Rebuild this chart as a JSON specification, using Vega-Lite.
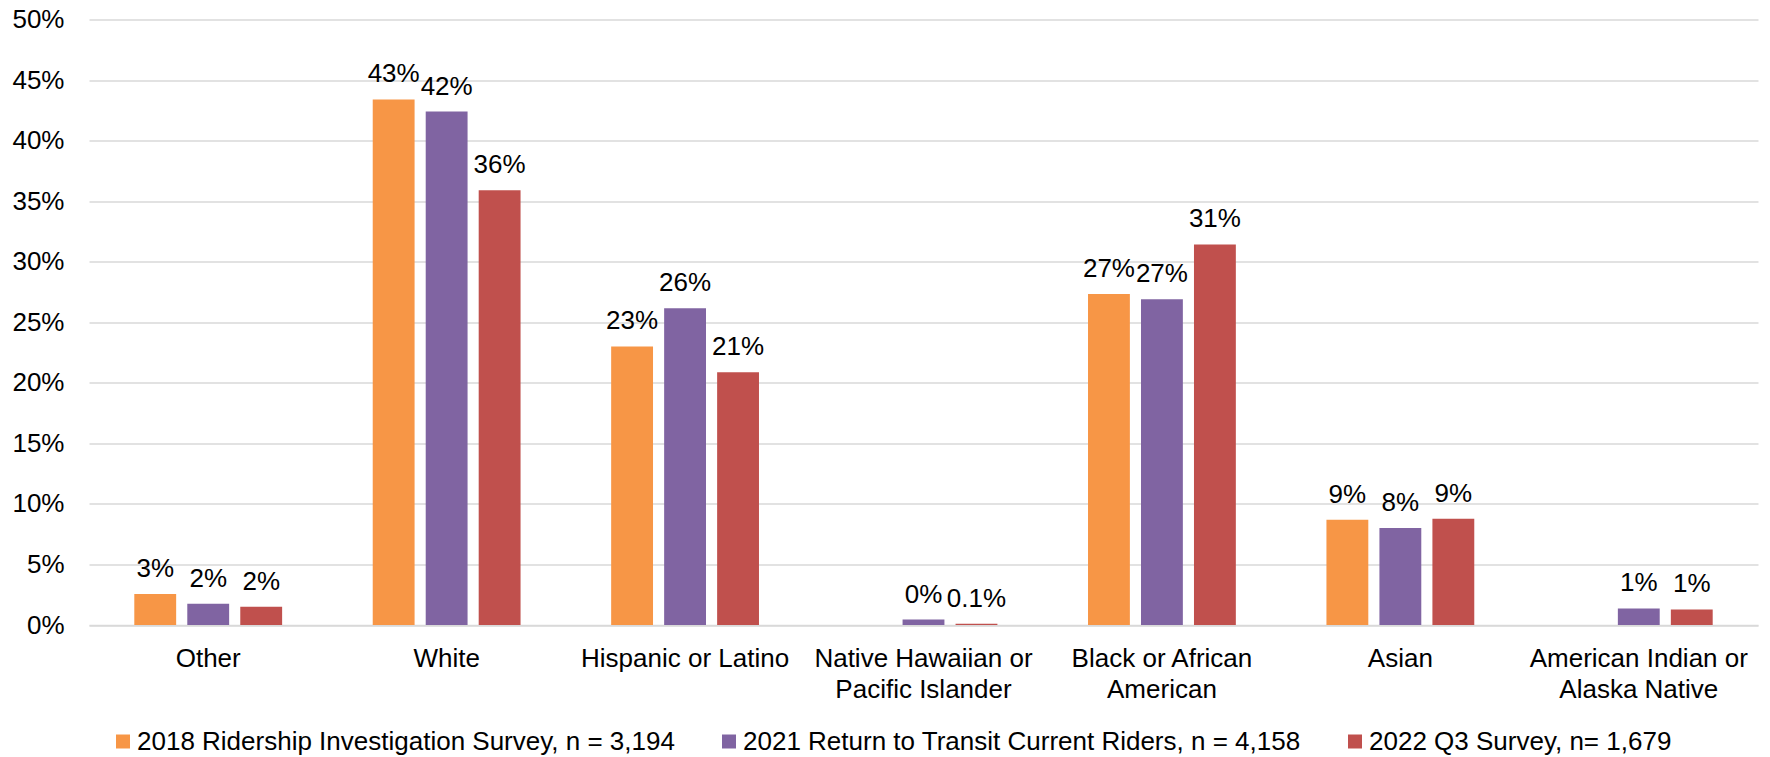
{
  "$schema": "https://vega.github.io/schema/vega-lite/v6.json",
  "width": 1669,
  "height": 605.5,
  "autosize": {"type": "none"},
  "padding": {"left": 89, "top": 19.5, "right": 12, "bottom": 132},
  "background": "white",
  "config": {
    "font": "Liberation Sans",
    "view": {"stroke": null},
    "axis": {"labelFont": "Liberation Sans", "labelFontSize": 26, "labelColor": "#000000"},
    "legend": {"labelFont": "Liberation Sans", "labelFontSize": 26, "labelColor": "#000000"}
  },
  "data": {
    "values": [
      {"group": "Other", "survey": "2018 Ridership Investigation Survey, n = 3,194", "share": 0.0256},
      {"group": "Other", "survey": "2021 Return to Transit Current Riders, n = 4,158", "share": 0.0176},
      {"group": "Other", "survey": "2022 Q3 Survey, n= 1,679", "share": 0.0151},
      {"group": "White", "survey": "2018 Ridership Investigation Survey, n = 3,194", "share": 0.434},
      {"group": "White", "survey": "2021 Return to Transit Current Riders, n = 4,158", "share": 0.424},
      {"group": "White", "survey": "2022 Q3 Survey, n= 1,679", "share": 0.359},
      {"group": "Hispanic or Latino", "survey": "2018 Ridership Investigation Survey, n = 3,194", "share": 0.230},
      {"group": "Hispanic or Latino", "survey": "2021 Return to Transit Current Riders, n = 4,158", "share": 0.2615},
      {"group": "Hispanic or Latino", "survey": "2022 Q3 Survey, n= 1,679", "share": 0.2087},
      {"group": "Native Hawaiian or Pacific Islander", "survey": "2021 Return to Transit Current Riders, n = 4,158", "share": 0.0045},
      {"group": "Native Hawaiian or Pacific Islander", "survey": "2022 Q3 Survey, n= 1,679", "share": 0.001},
      {"group": "Black or African American", "survey": "2018 Ridership Investigation Survey, n = 3,194", "share": 0.2733},
      {"group": "Black or African American", "survey": "2021 Return to Transit Current Riders, n = 4,158", "share": 0.2689},
      {"group": "Black or African American", "survey": "2022 Q3 Survey, n= 1,679", "share": 0.3143},
      {"group": "Asian", "survey": "2018 Ridership Investigation Survey, n = 3,194", "share": 0.0869},
      {"group": "Asian", "survey": "2021 Return to Transit Current Riders, n = 4,158", "share": 0.080},
      {"group": "Asian", "survey": "2022 Q3 Survey, n= 1,679", "share": 0.0877},
      {"group": "American Indian or Alaska Native", "survey": "2021 Return to Transit Current Riders, n = 4,158", "share": 0.0137},
      {"group": "American Indian or Alaska Native", "survey": "2022 Q3 Survey, n= 1,679", "share": 0.0129}
    ]
  },
  "encoding": {
    "x": {
      "field": "group",
      "type": "nominal",
      "sort": ["Other", "White", "Hispanic or Latino", "Native Hawaiian or Pacific Islander", "Black or African American", "Asian", "American Indian or Alaska Native"],
      "scale": {"paddingInner": 0.38, "paddingOuter": 0.19},
      "axis": {
        "title": null,
        "labelAngle": 0,
        "ticks": false,
        "tickSize": 0,
        "labelPadding": 20,
        "labelLineHeight": 31,
        "labelLimit": 400,
        "domain": true,
        "domainColor": "#d9d9d9",
        "domainWidth": 1.5,
        "labelExpr": "datum.value == 'Native Hawaiian or Pacific Islander' ? ['Native Hawaiian or', 'Pacific Islander'] : datum.value == 'Black or African American' ? ['Black or African', 'American'] : datum.value == 'American Indian or Alaska Native' ? ['American Indian or', 'Alaska Native'] : datum.value"
      }
    },
    "xOffset": {
      "field": "survey",
      "type": "nominal",
      "sort": ["2018 Ridership Investigation Survey, n = 3,194", "2021 Return to Transit Current Riders, n = 4,158", "2022 Q3 Survey, n= 1,679"],
      "scale": {"paddingInner": 0.21, "paddingOuter": 0}
    },
    "y": {
      "field": "share",
      "type": "quantitative",
      "scale": {"domain": [0, 0.5], "nice": false},
      "axis": {
        "title": null,
        "format": ".0%",
        "values": [0, 0.05, 0.1, 0.15, 0.2, 0.25, 0.3, 0.35, 0.4, 0.45, 0.5],
        "ticks": false,
        "tickSize": 0,
        "labelPadding": 25,
        "domain": false,
        "grid": true,
        "gridColor": "#d9d9d9",
        "gridWidth": 1.5
      }
    }
  },
  "layer": [
    {
      "mark": {"type": "bar"},
      "encoding": {
        "color": {
          "field": "survey",
          "type": "nominal",
          "sort": ["2018 Ridership Investigation Survey, n = 3,194", "2021 Return to Transit Current Riders, n = 4,158", "2022 Q3 Survey, n= 1,679"],
          "scale": {"range": ["#F79646", "#8064A2", "#C0504D"]},
          "legend": {
            "title": null,
            "orient": "none",
            "direction": "horizontal",
            "legendX": 21,
            "legendY": 709,
            "symbolType": "square",
            "symbolSize": 196,
            "symbolStrokeWidth": 0,
            "symbolOpacity": 1,
            "labelOffset": 1,
            "columnPadding": 41,
            "labelLimit": 800
          }
        }
      }
    },
    {
      "mark": {"type": "text", "dy": -17, "baseline": "alphabetic", "align": "center", "fontSize": 26, "color": "#000000"},
      "encoding": {
        "text": {
          "condition": {"test": "datum.share < 0.003", "field": "share", "format": ".1%"},
          "field": "share",
          "format": ".0%"
        }
      }
    }
  ]
}
